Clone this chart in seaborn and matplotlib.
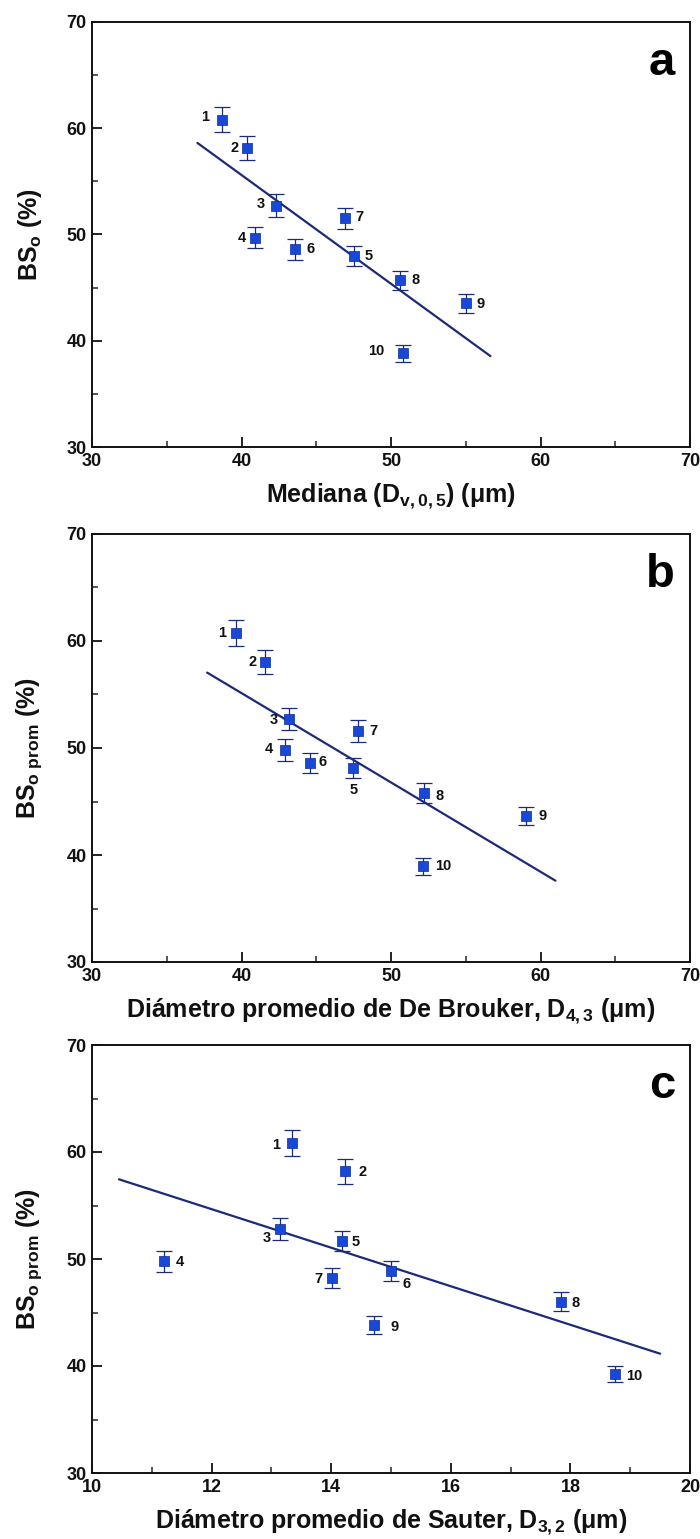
import matplotlib
matplotlib.use("Agg")
import matplotlib.pyplot as plt
import seaborn as sns
import numpy as np
import pandas as pd
from matplotlib.ticker import MultipleLocator

sns.set_theme(style="white")
FONT = ['Liberation Sans', 'DejaVu Sans']
plt.rcParams['font.family'] = FONT
plt.rcParams['font.weight'] = 'bold'
plt.rcParams['mathtext.fontset'] = 'custom'
plt.rcParams['mathtext.rm'] = 'Liberation Sans:bold'
plt.rcParams['mathtext.bf'] = 'Liberation Sans:bold'
plt.rcParams['mathtext.it'] = 'Liberation Sans:bold'
plt.rcParams['mathtext.sf'] = 'Liberation Sans:bold'
plt.rcParams['mathtext.default'] = 'bf'

# ---------------- data ----------------
sample_ids = ["1", "2", "3", "4", "5", "6", "7", "8", "9", "10"]

bs_a = [60.8, 58.1, 52.7, 49.7, 48.0, 48.6, 51.5, 45.7, 43.5, 38.8]
err_a = [1.2, 1.15, 1.07, 1.0, 0.95, 0.97, 1.0, 0.9, 0.87, 0.78]
d_v05 = [38.7, 40.4, 42.3, 40.9, 47.5, 43.6, 46.9, 50.6, 55.0, 50.8]
fit_a_x = [37.05, 56.65]
fit_a_y = [58.6, 38.55]

bs_b = [60.75, 58.05, 52.7, 49.8, 48.1, 48.6, 51.6, 45.8, 43.65, 38.95]
err_b = [1.2, 1.15, 1.05, 1.0, 0.92, 0.95, 1.0, 0.9, 0.85, 0.78]
d_43 = [39.65, 41.6, 43.15, 42.9, 47.45, 44.6, 47.8, 52.2, 59.05, 52.15]
fit_b_x = [37.7, 61.0]
fit_b_y = [57.05, 37.6]

bs_c = [60.85, 58.2, 52.8, 49.8, 51.7, 48.85, 48.2, 46.0, 43.8, 39.25]
err_c = [1.2, 1.15, 1.05, 0.98, 0.95, 0.95, 0.92, 0.9, 0.85, 0.77]
d_32 = [13.35, 14.23, 13.14, 11.2, 14.18, 15.0, 14.02, 17.84, 14.72, 18.74]
fit_c_x = [10.45, 19.5]
fit_c_y = [57.45, 41.15]

xlabels = ["Mediana (D$_{v,0,5}$) (μm)",
           "Diámetro promedio de De Brouker, D$_{4,3}$ (μm)",
           "Diámetro promedio de Sauter, D$_{3,2}$ (μm)"]
ylabels = ["BS$_{o}$ (%)", r"BS$_{o\ prom}$ (%)", r"BS$_{o\ prom}$ (%)"]
panel_letters = ["a", "b", "c"]

# label offsets in pixels (dx, dy) per point, per panel (layout only)
offs_a = [(-17, 3), (-13, 0), (-15, 2), (-13, 0), (15, 0), (15, 0), (15, 1), (16, 0), (15, -1), (-27, 2)]
offs_b = [(-14, 0), (-13, 0), (-15, -1), (-16, 1), (1, -22), (12, 1), (15, 0), (16, -3), (16, 0), (20, 0)]
offs_c = [(-16, -2), (18, -1), (-13, -9), (16, -1), (14, -1), (16, -13), (-14, -1), (15, -1), (20, -2), (20, -2)]

panels = [
    (d_v05, bs_a, err_a, fit_a_x, fit_a_y, (30, 70), 10, 5, offs_a),
    (d_43, bs_b, err_b, fit_b_x, fit_b_y, (30, 70), 10, 5, offs_b),
    (d_32, bs_c, err_c, fit_c_x, fit_c_y, (10, 20), 2, 1, offs_c),
]

fig = plt.figure(figsize=(7.0, 15.39), dpi=100)
W, H = 700.0, 1539.0
tops = [21.7, 534.0, 1045.0]
bottoms = [447.0, 962.0, 1473.0]
left, right = 92.0, 690.0

marker_color = "#1848d8"
line_color = "#1c2a7a"

for i, (xv, yv, ev, fx, fy, xlim, xmaj, xmin, offs) in enumerate(panels):
    ax = fig.add_axes([left / W, 1 - bottoms[i] / H, (right - left) / W, (bottoms[i] - tops[i]) / H])
    df = pd.DataFrame({"x": xv, "y": yv, "err": ev, "id": sample_ids})
    fit_df = pd.DataFrame({"x": fx, "y": fy})

    sns.lineplot(data=fit_df, x="x", y="y", ax=ax, color=line_color, lw=1.6, zorder=2)
    ax.errorbar(df["x"], df["y"], yerr=df["err"], fmt="none", ecolor=line_color,
                elinewidth=0.9, capsize=6, capthick=0.9, zorder=3)
    sns.scatterplot(data=df, x="x", y="y", ax=ax, marker="s", s=55, color=marker_color,
                    edgecolor="#0a2a9a", linewidth=0.5, zorder=4)

    for (x, y, lab), (dx, dy) in zip(zip(xv, yv, sample_ids), offs):
        ax.annotate(lab, (x, y), xytext=(dx * 0.72, dy * 0.72), textcoords="offset points",
                    ha="center", va="center", fontsize=10.5, fontweight="bold", color="#111111")

    ax.set_xlim(*xlim)
    ax.set_ylim(30, 70)
    ax.xaxis.set_major_locator(MultipleLocator(xmaj))
    ax.xaxis.set_minor_locator(MultipleLocator(xmin))
    ax.yaxis.set_major_locator(MultipleLocator(10))
    ax.yaxis.set_minor_locator(MultipleLocator(5))
    ax.tick_params(axis="both", which="major", direction="in", length=7, width=1.3,
                   labelsize=13, colors="#111111", bottom=True, left=True, top=False, right=False, pad=4)
    ax.tick_params(axis="both", which="minor", direction="in", length=4, width=1.1,
                   bottom=True, left=True, top=False, right=False)
    for lab in ax.get_xticklabels() + ax.get_yticklabels():
        lab.set_fontweight("bold")
    for sp in ax.spines.values():
        sp.set_visible(True)
        sp.set_color("#111111")
        sp.set_linewidth(1.4)
    ax.set_xlabel(xlabels[i], fontsize=18, fontweight="bold", color="#111111", labelpad=9)
    ax.set_ylabel(ylabels[i], fontsize=18, fontweight="bold", color="#111111")
    ax.yaxis.set_label_coords(-0.08, 0.5)
    ax.text(0.975, 0.955, panel_letters[i], transform=ax.transAxes, ha="right", va="top",
            fontsize=34, fontweight="bold", color="#000000")
    ax.grid(False)

fig.savefig("out.png", dpi=100, facecolor="white")
